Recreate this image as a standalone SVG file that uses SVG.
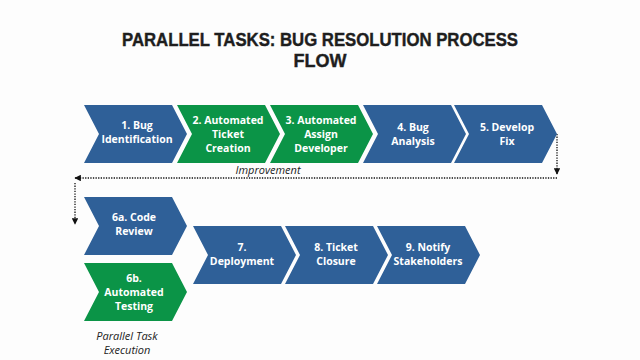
<svg xmlns="http://www.w3.org/2000/svg" width="640" height="360" viewBox="0 0 640 360">
<defs>
<style>
.blue{fill:#2f6098}
.green{fill:#0b9447}
.lbl{font-family:"Open Sans","Liberation Sans",sans-serif;font-weight:bold;font-size:10.5px;fill:#ffffff;text-anchor:middle}
.title{font-family:"Liberation Sans",Arial,sans-serif;font-weight:bold;font-size:18px;fill:#1e1e1e;text-anchor:middle;stroke:#1e1e1e;stroke-width:0.4}
.note{font-family:"Open Sans","Liberation Sans",sans-serif;font-style:italic;font-size:11px;fill:#222222;text-anchor:middle}
.dot{fill:none;stroke:#111111;stroke-width:1.3;stroke-dasharray:1.3 1.3}
</style>
<marker id="ah" viewBox="0 0 10 10" refX="9" refY="5" markerWidth="5" markerHeight="5" orient="auto">
<path d="M0,0 L10,5 L0,10 z" fill="#111111"/>
</marker>
<path id="chev" d="M0,0 L88,0 L103,29 L88,58 L0,58 L15,29 Z"/>
</defs>
<rect width="640" height="360" fill="#fdfdfd"/>
<text class="title" x="320" y="46" textLength="396" lengthAdjust="spacingAndGlyphs">PARALLEL TASKS: BUG RESOLUTION PROCESS</text>
<text class="title" x="320" y="67">FLOW</text>

<g id="connectors">
<path class="dot" d="M557,134 L557,174" marker-end="url(#ah)"/>
<path class="dot" d="M557,178 L75,178" marker-end="url(#ah)"/>
<path class="dot" d="M75,183 L75,224" marker-end="url(#ah)"/>
<text class="note" x="268" y="174">Improvement</text>
</g>

<g id="n1"><use href="#chev" x="84" y="105" class="blue"/>
<text class="lbl" x="137" y="129">1. Bug</text><text class="lbl" x="137" y="143">Identification</text></g>
<g id="n2"><use href="#chev" x="177" y="105" class="green"/>
<text class="lbl" x="228" y="124">2. Automated</text><text class="lbl" x="228" y="138">Ticket</text><text class="lbl" x="228" y="152">Creation</text></g>
<g id="n3"><use href="#chev" x="270" y="105" class="green"/>
<text class="lbl" x="321" y="124">3. Automated</text><text class="lbl" x="321" y="138">Assign</text><text class="lbl" x="321" y="152">Developer</text></g>
<g id="n4"><use href="#chev" x="363" y="105" class="blue"/>
<text class="lbl" x="413" y="131">4. Bug</text><text class="lbl" x="413" y="145">Analysis</text></g>
<g id="n5"><use href="#chev" x="454" y="105" class="blue"/>
<text class="lbl" x="507" y="131">5. Develop</text><text class="lbl" x="507" y="145">Fix</text></g>

<g id="n6a"><use href="#chev" x="84" y="197" class="blue"/>
<text class="lbl" x="134" y="221">6a. Code</text><text class="lbl" x="134" y="235">Review</text></g>
<g id="n6b"><use href="#chev" x="84" y="263" class="green"/>
<text class="lbl" x="134" y="282">6b.</text><text class="lbl" x="134" y="296">Automated</text><text class="lbl" x="134" y="310">Testing</text></g>
<text class="note" x="127" y="340">Parallel Task</text>
<text class="note" x="127" y="354">Execution</text>

<g id="n7"><use href="#chev" x="193" y="226" class="blue"/>
<text class="lbl" x="242" y="251">7.</text><text class="lbl" x="242" y="265">Deployment</text></g>
<g id="n8"><use href="#chev" x="285" y="226" class="blue"/>
<text class="lbl" x="336" y="251">8. Ticket</text><text class="lbl" x="336" y="265">Closure</text></g>
<g id="n9"><use href="#chev" x="377" y="226" class="blue"/>
<text class="lbl" x="428" y="251">9. Notify</text><text class="lbl" x="428" y="265">Stakeholders</text></g>
</svg>
